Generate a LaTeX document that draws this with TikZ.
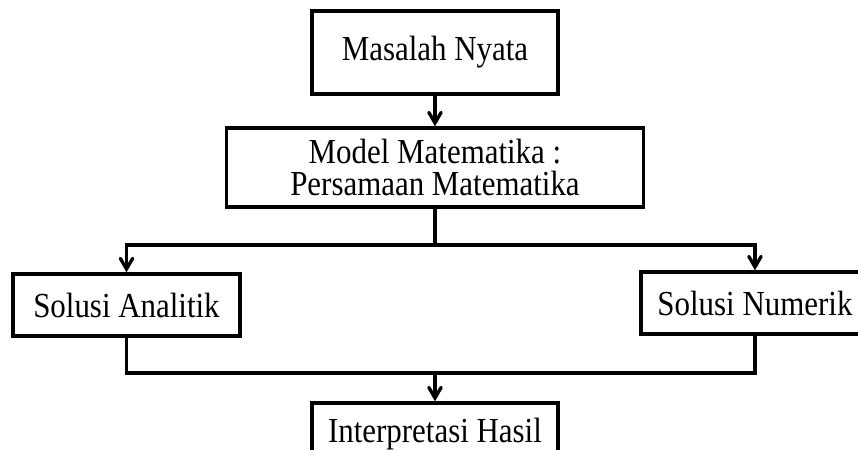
\documentclass[tikz,border=0pt]{standalone}
\usepackage{fontspec}
\setmainfont{Liberation Serif}[FakeStretch=0.88]
\usetikzlibrary{arrows, positioning}

\begin{document}
\begin{tikzpicture}[line width=1.9pt, >=angle 60, font=\fontsize{20}{18.5}\selectfont, box/.style={draw, rectangle, inner sep=0pt, minimum height=1.24cm}]
  \clip (0,0) rectangle (17.16,-9);
  \node[box, minimum width=4.92cm, minimum height=1.66cm] (masalah) at (8.7,-1.05) {Masalah Nyata};
  \node[box, minimum width=8.34cm, minimum height=1.58cm, align=center] (model) at (8.7,-3.35) {Model Matematika :\\Persamaan Matematika};
  \node[box, minimum width=4.54cm] (analitik) at (2.53,-6.1) {Solusi Analitik};
  \node[box, minimum width=4.56cm] (numerik) at (15.1,-6.06) {Solusi Numerik};
  \node[box, minimum width=4.92cm] (hasil) at (8.7,-8.68) {Interpretasi Hasil};
  % cabang
  \coordinate (pisah) at (8.7,-4.9);
  \coordinate (gabung) at (8.7,-7.46);
  \draw[->] (masalah) -- (model);
  \draw (model) -- (pisah);
  \draw[->] (pisah) -| (analitik.north);
  \draw[->] (pisah) -| (numerik.north);
  \draw (analitik.south) |- (gabung) -| (numerik.south);
  \draw[->] (gabung) -- (hasil);
\end{tikzpicture}
\end{document}
